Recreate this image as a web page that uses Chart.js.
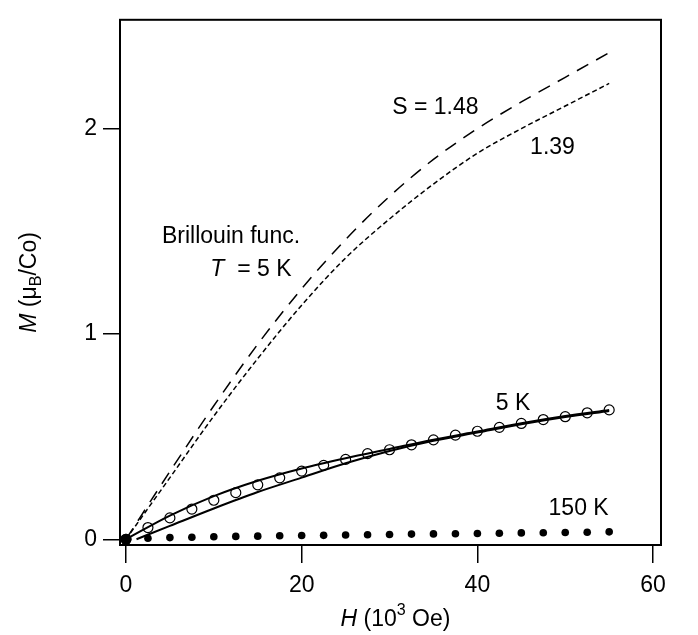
<!DOCTYPE html>
<html>
<head>
<meta charset="utf-8">
<script src="https://cdn.jsdelivr.net/npm/chart.js@4/dist/chart.umd.min.js"></script>
<style>
  html, body { margin: 0; padding: 0; background: #fff; }
  #wrap { width: 698px; height: 635px; }
</style>
</head>
<body>
<div id="wrap"><canvas id="chart" width="698" height="635"></canvas></div>
<script>
// field values (10^3 Oe) of the measured points
const fieldPts = [0, 2.5, 5, 7.5, 10, 12.5, 15, 17.5, 20, 22.5, 25, 27.5, 30, 32.5, 35, 37.5, 40, 42.5, 45, 47.5, 50, 52.5, 55];
const m5K = [0, 0.057, 0.104, 0.147, 0.19, 0.227, 0.265, 0.299, 0.332, 0.36, 0.389, 0.417, 0.436, 0.46, 0.484, 0.507, 0.526, 0.545, 0.564, 0.583, 0.597, 0.616, 0.63];
const m150K = [0, 0.005, 0.008, 0.010, 0.012, 0.014, 0.015, 0.017, 0.018, 0.019, 0.021, 0.022, 0.023, 0.025, 0.026, 0.027, 0.028, 0.029, 0.031, 0.032, 0.033, 0.034, 0.036];

// Brillouin curves, T = 5 K
const fieldCurve = [0, 5, 10, 15, 20, 25, 30, 35, 40, 45, 50, 55];
const brill148 = [0, 0.33, 0.65, 0.95, 1.22, 1.46, 1.67, 1.85, 2.00, 2.13, 2.25, 2.37];
const brill139 = [0, 0.30, 0.60, 0.88, 1.14, 1.37, 1.56, 1.73, 1.88, 2.00, 2.11, 2.22];

// two solid fit lines through the 5 K data
const fitAx = [0, 5, 10, 15, 20, 25, 30, 35, 40, 45, 50, 55];
const fitA = [0, 0.115, 0.21, 0.285, 0.345, 0.395, 0.44, 0.485, 0.525, 0.565, 0.60, 0.63];
const fitBx = [1.2, 5, 10, 15, 20, 25, 30, 35, 40, 45, 50, 55];
const fitB = [0, 0.065, 0.15, 0.23, 0.30, 0.37, 0.43, 0.48, 0.52, 0.56, 0.595, 0.625];

const xTicks = [0, 20, 40, 60];
const yTicks = [0, 1, 2];

const pts = (xs, ys) => xs.map((x, i) => ({ x, y: ys[i] }));

const FONT = '"Liberation Sans", Arial, Helvetica, sans-serif';
const FS = 23;

// text labels inside the plot, placed in data units
const notes = [
  { x: 30.3, y: 2.10, parts: [{ t: "S = 1.48" }] },
  { x: 46.0, y: 1.905, parts: [{ t: "1.39" }] },
  { x: 4.1, y: 1.474, parts: [{ t: "Brillouin func." }] },
  { x: 9.6, y: 1.313, parts: [{ t: "T", it: true }, { t: "  = 5 K" }] },
  { x: 42.1, y: 0.659, parts: [{ t: "5 K" }] },
  { x: 48.1, y: 0.147, parts: [{ t: "150 K" }] }
];

function richWidth(ctx, parts, size) {
  let w = 0;
  parts.forEach(p => {
    const s = p.sub || p.sup ? size * 0.7 : size;
    ctx.font = (p.it ? "italic " : "") + s + "px " + FONT;
    w += ctx.measureText(p.t).width;
  });
  return w;
}

function drawRich(ctx, parts, x, y, size) {
  let cx = x;
  parts.forEach(p => {
    const s = p.sub || p.sup ? size * 0.7 : size;
    ctx.font = (p.it ? "italic " : "") + s + "px " + FONT;
    let dy = 0;
    if (p.sub) dy = size * 0.3;
    if (p.sup) dy = -size * 0.4;
    ctx.fillText(p.t, cx, y + dy);
    cx += ctx.measureText(p.t).width;
  });
}

const extras = {
  id: "extras",
  afterDraw(c) {
    const ctx = c.ctx, a = c.chartArea;
    const sx = c.scales.x, sy = c.scales.y;
    ctx.save();
    // frame
    ctx.strokeStyle = "#000";
    ctx.lineWidth = 2;
    ctx.strokeRect(a.left, a.top, a.right - a.left, a.bottom - a.top);

    ctx.fillStyle = "#000";
    ctx.textBaseline = "middle";
    ctx.textAlign = "left";
    notes.forEach(n => {
      drawRich(ctx, n.parts, sx.getPixelForValue(n.x), sy.getPixelForValue(n.y), FS);
    });

    // x title
    const xt = [{ t: "H", it: true }, { t: " (10" }, { t: "3", sup: true }, { t: " Oe)" }];
    const xw = richWidth(ctx, xt, FS);
    drawRich(ctx, xt, (sx.left + sx.right) / 2 - xw / 2 + 5, 620, FS);

    // y title
    const yt = [{ t: "M", it: true }, { t: " (\u03bc" }, { t: "B", sub: true }, { t: "/Co)" }];
    const yw = richWidth(ctx, yt, FS);
    ctx.translate(30, (a.top + a.bottom) / 2);
    ctx.rotate(-Math.PI / 2);
    drawRich(ctx, yt, -yw / 2, 0, FS);
    ctx.restore();
  }
};

const lineDs = (data, dash, w) => ({
  type: "line",
  data,
  borderColor: "#000",
  borderWidth: w,
  borderDash: dash,
  pointRadius: 0,
  fill: false,
  tension: 0.4,
  cubicInterpolationMode: "monotone"
});

new Chart(document.getElementById("chart"), {
  type: "scatter",
  data: {
    datasets: [
      lineDs(pts(fieldCurve, brill148), [13, 9], 1.5),
      lineDs(pts(fieldCurve, brill139), [5, 3], 1.5),
      lineDs(pts(fitAx, fitA), [], 2),
      lineDs(pts(fitBx, fitB), [], 2),
      {
        data: pts(fieldPts, m5K),
        pointStyle: "circle",
        pointRadius: 5,
        pointBorderWidth: 1.2,
        pointBorderColor: "#000",
        pointBackgroundColor: "rgba(255,255,255,0)",
        showLine: false
      },
      {
        data: pts(fieldPts, m150K),
        pointStyle: "circle",
        pointRadius: ctx => ctx.dataIndex === 0 ? 5.5 : 3.8,
        pointBorderWidth: 0,
        pointBackgroundColor: "#000",
        showLine: false
      }
    ]
  },
  options: {
    responsive: false,
    animation: false,
    events: [],
    layout: { padding: { left: 0, right: 37, top: 5, bottom: 0 } },
    plugins: { legend: { display: false }, tooltip: { enabled: false } },
    scales: {
      x: {
        type: "linear",
        min: -0.68,
        max: 60.9,
        afterBuildTicks: s => { s.ticks = xTicks.map(v => ({ value: v })); },
        afterFit: s => { s.height = 90; },
        grid: { display: true, drawOnChartArea: false, drawTicks: true, tickLength: 18, color: "#000", lineWidth: 1.5 },
        border: { display: true, color: "#000", width: 2 },
        ticks: { color: "#000", font: { family: FONT, size: FS }, padding: 9, maxRotation: 0 }
      },
      y: {
        type: "linear",
        min: -0.028,
        max: 2.53,
        afterBuildTicks: s => { s.ticks = yTicks.map(v => ({ value: v })); },
        afterFit: s => { s.width = 120; },
        grid: { display: true, drawOnChartArea: false, drawTicks: true, tickLength: 17, color: "#000", lineWidth: 1.5 },
        border: { display: true, color: "#000", width: 2 },
        ticks: { color: "#000", font: { family: FONT, size: FS }, padding: 6 }
      }
    }
  },
  plugins: [extras]
});
</script>
</body>
</html>
